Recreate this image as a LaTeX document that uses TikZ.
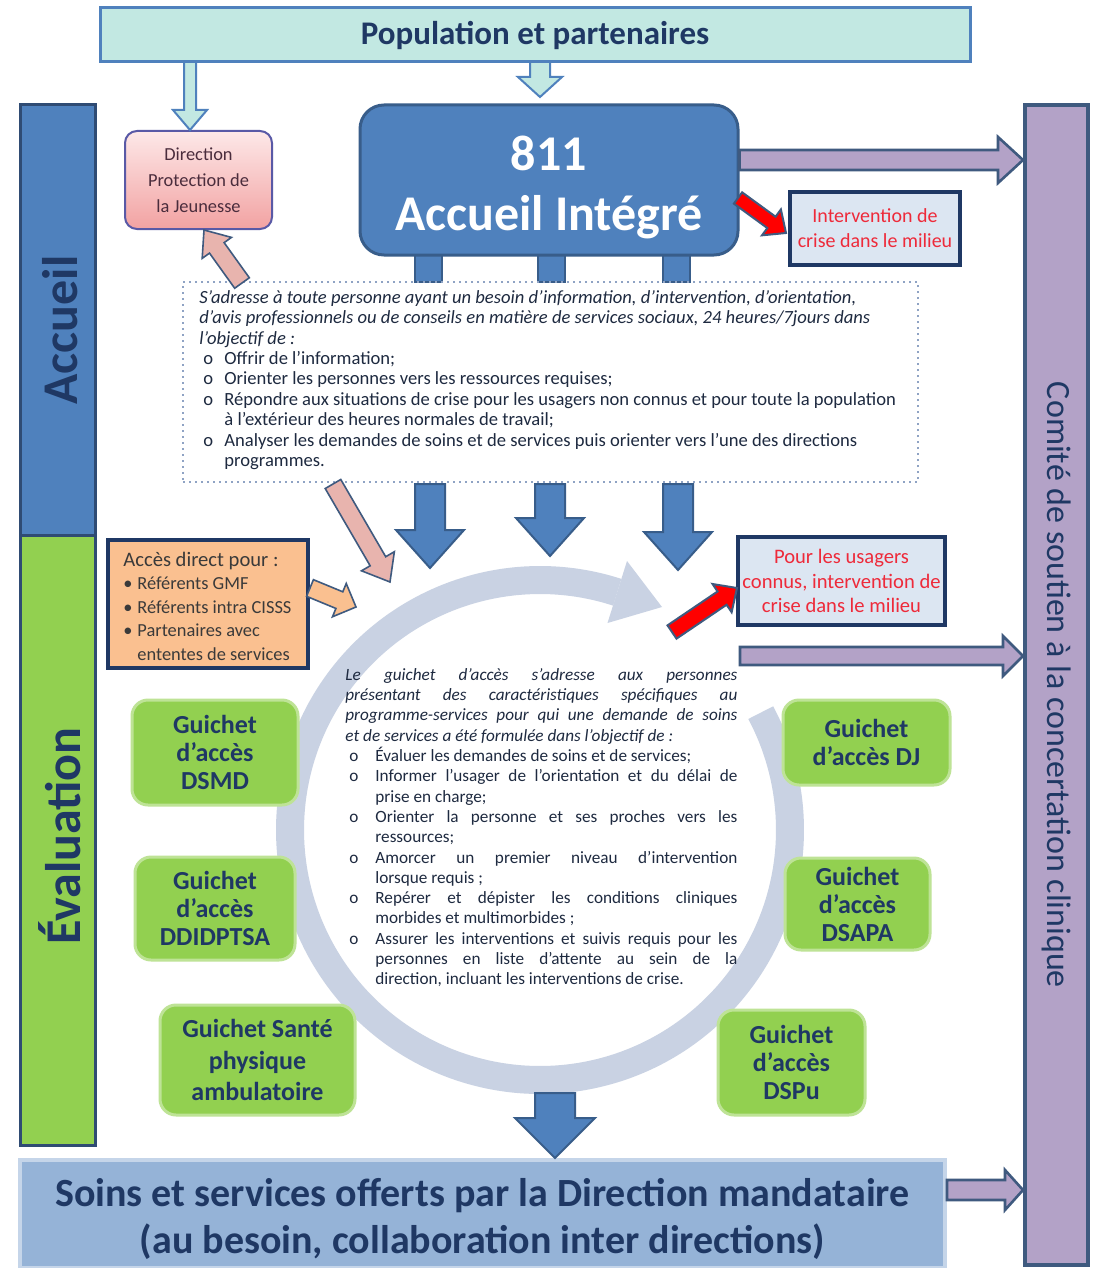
\documentclass[tikz,border=0pt]{standalone}
\usepackage{fontspec}
\setmainfont{Carlito}
\usetikzlibrary{calc}

\definecolor{navy}{HTML}{1F3864}
\definecolor{bblue}{HTML}{4F81BD}
\definecolor{bblueD}{HTML}{385D8A}
\definecolor{colD}{HTML}{2F4B73}
\definecolor{aqua}{HTML}{C2E8E2}
\definecolor{lav}{HTML}{B3A2C7}
\definecolor{lavD}{HTML}{3F5A7F}
\definecolor{gr}{HTML}{92D050}
\definecolor{orng}{HTML}{FAC090}
\definecolor{lblue}{HTML}{DCE6F2}
\definecolor{botblue}{HTML}{95B3D7}
\definecolor{ringc}{HTML}{C9D2E3}
\definecolor{pinkA}{HTML}{E8B4AE}
\definecolor{pinkTop}{HTML}{FDE8E8}
\definecolor{pinkBot}{HTML}{F2A2A2}
\definecolor{redA}{HTML}{FF0000}
\definecolor{redT}{HTML}{EE2A3A}
\definecolor{txt}{HTML}{1E2A40}
\definecolor{dpjtxt}{HTML}{4A2C3C}
\definecolor{dotc}{HTML}{8FA3C4}
\definecolor{acctxt}{HTML}{3A3A3A}

% block arrow: style, from, to, shaft half-width (pt), head half-width (pt), head length (pt)
\newcommand\barrow[6]{%
  \path[#1] let \p1=#2, \p2=#3,
    \n1={veclen(\x2-\x1,\y2-\y1)},
    \n2={(\x2-\x1)/\n1}, \n3={(\y2-\y1)/\n1},
    \p3=({\x2-(#6)*\n2},{\y2-(#6)*\n3}) in
    ({\x1-(#4)*\n3},{\y1+(#4)*\n2}) -- ({\x3-(#4)*\n3},{\y3+(#4)*\n2})
    -- ({\x3-(#5)*\n3},{\y3+(#5)*\n2}) -- (\x2,\y2)
    -- ({\x3+(#5)*\n3},{\y3-(#5)*\n2}) -- ({\x3+(#4)*\n3},{\y3-(#4)*\n2})
    -- ({\x1+(#4)*\n3},{\y1-(#4)*\n2}) -- cycle;}

\newcommand\oit[2]{\par\noindent\hangindent=#1\hangafter=1\makebox[#1][l]{\hspace{2pt}o}#2}
\newcommand\bit[1]{\par\noindent\hangindent=7pt\hangafter=1\makebox[7pt][l]{•}#1}

\begin{document}
\begin{tikzpicture}[x=0.5pt,y=-0.5pt,
  box/.style={draw, line width=1.5pt, inner sep=0pt, align=center},
  guichet/.style={fill=gr, draw=gr!60!white, line width=1.5pt, rounded corners=8pt,
     inner sep=0pt, align=center, text=navy, font=\bfseries\fontsize{13}{14}\selectfont},
  stub/.style={fill=bblue, draw=bblueD, line width=0.8pt, minimum width=13.5pt, minimum height=13.5pt, inner sep=0pt},
  arrblue/.style={fill=bblue, draw=bblueD, line width=1pt},
  arrlav/.style={fill=lav, draw=lavD, line width=1.3pt},
  arrred/.style={fill=redA, draw=lavD, line width=1pt},
  arrpink/.style={fill=pinkA, draw=lavD, line width=0.8pt},
  arraqua/.style={fill=aqua, draw=bblue, line width=1pt},
  arrorng/.style={fill=orng, draw=lavD, line width=0.8pt}
]
\useasboundingbox (0,0) rectangle (1095,1268);
\fill[white] (0,0) rectangle (1095,1268);

% circular arrow (ring)
\draw[ringc, line width=14pt] plot[domain=-28:288, samples=120, smooth] ({540+250*cos(\x)},{830+250*sin(\x)});
\fill[ringc] (627,561) -- (662,607) -- (607.5,623) -- cycle;

% top box
\node[box, draw=bblue, fill=aqua, minimum width=435pt, minimum height=27pt,
  font=\bfseries\fontsize{16.5}{18}\selectfont, text=navy] (pop) at (535,35) {Population et partenaires};

% stubs under 811
\node[stub] (s1) at (428.5,268.5) {};
\node[stub] (s2) at (551.5,268.5) {};
\node[stub] (s3) at (676.5,268.5) {};

% 811 box
\node[box, draw=bblueD, fill=bblue, rounded corners=12pt, minimum width=189pt, minimum height=75pt] (acc) at (549,180) {};
\node[align=center, inner sep=0pt, text=white, font=\bfseries\fontsize{25}{30}\selectfont] (acctxt) at (549,187) {811\\Accueil Intégré};

% DPJ
\node[box, line width=1pt, draw=gray!70!blue, rounded corners=6pt, top color=pinkTop, bottom color=pinkBot,
  minimum width=73.5pt, minimum height=49pt, text=dpjtxt, font=\fontsize{9.2}{13}\selectfont]
  (dpj) at (198.5,180) {Direction\\Protection de\\la Jeunesse};

% intervention box
\node[box, draw=navy, line width=2pt, fill=lblue, minimum width=85pt, minimum height=36.5pt,
  text=redT, font=\fontsize{10}{12.5}\selectfont] (int1) at (875,228.5) {Intervention de\\crise dans le milieu};

% dotted box
\node[draw=dotc, dotted, line width=1pt, minimum width=367.5pt, minimum height=100pt, inner sep=0pt] (dot) at (550.5,382) {};
\node[anchor=north west, inner sep=0pt, text=txt] (dottxt) at (199,290) {\begin{minipage}{358pt}\raggedright\fontsize{9.3}{10.2}\selectfont
\textit{S’adresse à toute personne ayant un besoin d’information, d’intervention, d’orientation,\newline
d’avis professionnels ou de conseils en matière de services sociaux, 24 heures/7jours dans\newline
l’objectif de :}
\oit{12.5pt}{Offrir de l’information;}
\oit{12.5pt}{Orienter les personnes vers les ressources requises;}
\oit{12.5pt}{Répondre aux situations de crise pour les usagers non connus et pour toute la population\newline à l’extérieur des heures normales de travail;}
\oit{12.5pt}{Analyser les demandes de soins et de services puis orienter vers l’une des directions\newline programmes.}
\end{minipage}};

% left and right columns
\node[box, draw=colD, fill=bblue, minimum width=37.5pt, minimum height=215pt] (accueil) at (57.5,320) {};
\node[rotate=90, inner sep=0pt, text=navy, font=\bfseries\fontsize{25}{30}\selectfont] (accueiltxt) at (60,330) {Accueil};
\node[box, draw=colD, fill=gr, minimum width=37.5pt, minimum height=305pt] (evalc) at (57.5,840) {};
\node[rotate=90, inner sep=0pt, text=navy, font=\bfseries\fontsize{25}{30}\selectfont] (evaltxt) at (60,836) {Évaluation};
\node[box, draw=lavD, line width=2pt, fill=lav, rotate=-90, minimum width=580pt, minimum height=31.5pt,
  text=navy, font=\fontsize{17}{20}\selectfont] (comite) at (1056.5,685) {Comité de soutien à la concertation clinique};

% acces direct
\node[box, draw=navy, line width=2pt, fill=orng, minimum width=100pt, minimum height=64pt] (acd) at (208,604) {};
\node[anchor=west, inner sep=0pt, text=acctxt] (acdtxt) at (123,606) {\begin{minipage}{92pt}\fontsize{9.2}{11.75}\selectfont
{\fontsize{10.3}{11.75}\selectfont Accès direct pour :}
\bit{Référents GMF}
\bit{Référents intra CISSS}
\bit{Partenaires avec\newline ententes de services}
\end{minipage}};

% pour les usagers connus
\node[box, draw=navy, line width=2pt, fill=lblue, minimum width=103.5pt, minimum height=44pt,
  text=redT, font=\fontsize{10.3}{12.25}\selectfont] (int2) at (841.5,581) {Pour les usagers\\connus, intervention de\\crise dans le milieu};

% central text
\node[anchor=north west, inner sep=0pt, text=txt] (ctxt) at (345,668) {\begin{minipage}{196pt}\fontsize{8.6}{10.15}\selectfont
\textit{Le guichet d’accès s’adresse aux personnes\linebreak présentant des caractéristiques spécifiques au\linebreak programme-services pour qui une demande de soins\linebreak et de services a été formulée dans l’objectif de :}
\oit{15pt}{Évaluer les demandes de soins et de services;}
\oit{15pt}{Informer l’usager de l’orientation et du délai de\linebreak prise en charge;}
\oit{15pt}{Orienter la personne et ses proches vers les\linebreak ressources;}
\oit{15pt}{Amorcer un premier niveau d’intervention\linebreak lorsque requis ;}
\oit{15pt}{Repérer et dépister les conditions cliniques\linebreak morbides et multimorbides ;}
\oit{15pt}{Assurer les interventions et suivis requis pour les\linebreak personnes en liste d’attente au sein de la\linebreak direction, incluant les interventions de crise.}
\end{minipage}};

% guichets
\node[guichet, minimum width=83pt, minimum height=52.5pt] (g1) at (215,752.5) {Guichet\\d’accès\\DSMD};
\node[guichet, minimum width=80pt, minimum height=51.5pt] (g2) at (215,908.5) {Guichet\\d’accès\\DDIDPTSA};
\node[guichet, minimum width=97.5pt, minimum height=55pt, font=\bfseries\fontsize{13}{15.75}\selectfont] (g3) at (257.5,1060) {Guichet Santé\\physique\\ambulatoire};
\node[guichet, minimum width=83.5pt, minimum height=42.5pt] (g4) at (866.5,742.5) {Guichet\\d’accès DJ};
\node[guichet, minimum width=72.5pt, minimum height=46pt] (g5) at (857.5,904) {Guichet\\d’accès\\DSAPA};
\node[guichet, minimum width=73.5pt, minimum height=52.5pt] (g6) at (791.5,1062.5) {Guichet\\d’accès\\DSPu};

% bottom box
\node[box, draw=botblue!55!white, line width=2pt, fill=botblue, minimum width=462.5pt, minimum height=54pt] (bot) at (482.5,1214) {};
\node[align=center, inner sep=0pt, text=navy, font=\bfseries\fontsize{20}{23.5}\selectfont] (bottxt) at (482.5,1219)
  {Soins et services offerts par la Direction mandataire\\(au besoin, collaboration inter directions)};

% arrows
\barrow{arraqua}{(540,62)}{(540,97)}{5}{11}{10}
\barrow{arraqua}{(190,62)}{(190,130)}{3}{8.5}{10}
\barrow{arrlav}{(acc.east |- 0,160)}{(comite.south |- 0,160)}{5}{11.5}{12.5}
\barrow{arrlav}{(740,656)}{(comite.south |- 0,656)}{4.5}{10}{10}
\barrow{arrlav}{(bot.east |- 0,1190)}{(comite.south |- 0,1190)}{5}{10}{9}
\barrow{arrred}{(738,198)}{(786,233)}{3.5}{8}{9}
\barrow{arrred}{(672,632)}{(737,588)}{4}{8.5}{9}
\barrow{arrpink}{(242,283)}{(204,230)}{4.5}{9}{11}
\barrow{arrpink}{(333,484)}{(390,582)}{4.5}{9.5}{12}
\barrow{arrorng}{(acd.east |- 0,588)}{(356,607)}{4.5}{9}{9}
\barrow{arrblue}{(430,484)}{(430,568)}{7.5}{17}{19}
\barrow{arrblue}{(550,484)}{(550,556)}{7.5}{17}{19}
\barrow{arrblue}{(678,484)}{(678,570)}{7.5}{17}{19}
\barrow{arrblue}{(555,1093)}{(bot.north -| 555,0)}{10}{20}{20}
\end{tikzpicture}
\end{document}
